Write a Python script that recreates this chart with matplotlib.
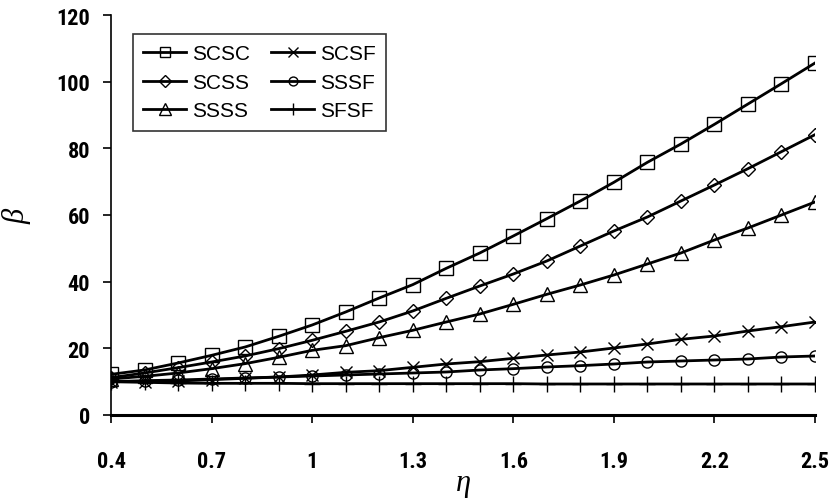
import matplotlib
matplotlib.use("Agg")
import matplotlib.pyplot as plt

eta = [0.4, 0.5, 0.6, 0.7, 0.8, 0.9, 1.0, 1.1, 1.2, 1.3, 1.4,
       1.5, 1.6, 1.7, 1.8, 1.9, 2.0, 2.1, 2.2, 2.3, 2.4, 2.5]

scsc = [12.2, 13.5, 15.6, 17.9, 20.4, 23.6, 27.0, 30.9, 35.1, 39.1, 44.0,
        48.6, 53.7, 58.9, 64.2, 69.8, 75.8, 81.3, 87.2, 93.3, 99.4, 105.6]
scss = [11.2, 12.6, 14.2, 15.9, 17.7, 19.9, 22.4, 25.1, 27.9, 31.2, 35.0,
        38.7, 42.3, 46.2, 50.7, 55.2, 59.4, 64.2, 69.0, 73.9, 79.0, 84.1]
ssss = [10.8, 11.6, 12.6, 13.9, 15.4, 17.3, 19.4, 20.8, 23.2, 25.4, 27.9,
        30.3, 33.2, 36.2, 39.0, 42.0, 45.3, 48.6, 52.5, 56.1, 60.0, 63.9]
scsf = [10.0, 10.0, 10.2, 10.6, 11.0, 11.4, 12.0, 12.8, 13.3, 14.3, 15.3,
        16.0, 17.0, 18.0, 18.9, 20.1, 21.3, 22.7, 23.7, 25.2, 26.5, 27.9]
sssf = [10.0, 10.3, 10.5, 10.8, 11.1, 11.4, 11.7, 12.0, 12.3, 12.6, 12.9,
        13.5, 13.9, 14.4, 14.8, 15.3, 15.9, 16.2, 16.5, 16.8, 17.4, 17.7]
sfsf = [10.0, 9.8, 9.6, 9.5, 9.5, 9.5, 9.4, 9.4, 9.4, 9.4, 9.4,
        9.4, 9.4, 9.3, 9.3, 9.3, 9.3, 9.3, 9.3, 9.3, 9.3, 9.3]

series = [("SCSC", scsc, "s", 9.5), ("SCSS", scss, "D", 7.5), ("SSSS", ssss, "^", 10),
          ("SCSF", scsf, "x", 9), ("SSSF", sssf, "o", 8), ("SFSF", sfsf, "+", 11)]

xticks = [0.4, 0.7, 1.0, 1.3, 1.6, 1.9, 2.2, 2.5]
xticklabels = ["0.4", "0.7", "1", "1.3", "1.6", "1.9", "2.2", "2.5"]
yticks = [0, 20, 40, 60, 80, 100, 120]

fig = plt.figure(figsize=(8.3, 5.02), dpi=100)
ax = fig.add_axes([111/830, 86/502, (815-111)/830, 400/502])

for name, vals, mk, ms in series:
    ax.plot(eta, vals, color="black", lw=2.0, marker=mk, ms=ms,
            mfc="none", mec="black", mew=1.0, label=name)

ax.set_xlim(0.4, 2.5)
ax.set_ylim(0, 120)
ax.spines["top"].set_visible(False)
ax.spines["right"].set_visible(False)
ax.spines["left"].set_linewidth(1.2)
ax.spines["bottom"].set_linewidth(2.2)

tickfont = dict(family=["Roboto Condensed", "DejaVu Sans"], weight="bold", size=16)
ax.set_xticks(xticks)
ax.set_xticklabels(xticklabels, fontdict=tickfont)
ax.set_yticks(yticks)
ax.set_yticklabels([str(v) for v in yticks], fontdict=tickfont)
ax.tick_params(axis="x", direction="out", length=6, width=1.2, pad=19)
ax.tick_params(axis="y", direction="out", length=6, width=1.2, pad=9)

ax.set_xlabel("η", family="Liberation Serif", style="italic", fontsize=22, labelpad=-3)
ax.set_ylabel("β", family="Liberation Serif", style="italic", fontsize=22, labelpad=18)

leg = ax.legend(ncol=2, loc="upper left", bbox_to_anchor=(22/704, 1 - 19/400),
                prop=dict(family="Liberation Sans", size=15),
                frameon=True, fancybox=False, edgecolor="black", markerscale=0.8,
                handlelength=2.05, handletextpad=0.3, columnspacing=1.0,
                labelspacing=0.45, borderpad=0.5, borderaxespad=0)
leg.get_frame().set_linewidth(1.2)

fig.savefig("out.png", dpi=100)
